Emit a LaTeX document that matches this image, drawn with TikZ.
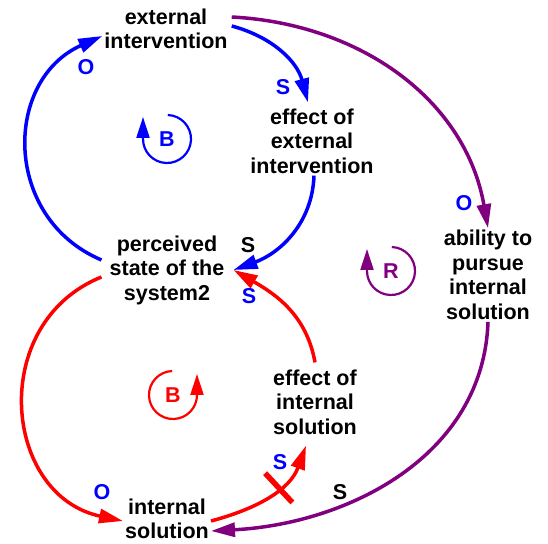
\documentclass[tikz,border=0pt]{standalone}
\usepackage{fontspec}
\setmainfont{Liberation Sans}
\usetikzlibrary{arrows.meta}

\definecolor{loopR}{RGB}{128,0,128}

\begin{document}
\begin{tikzpicture}[x=1pt, y=1pt,
    var/.style={font=\fontsize{21.5}{24.5}\selectfont\bfseries, align=center, inner sep=2pt},
    pol/.style={font=\fontsize{21.5}{24}\selectfont\bfseries, inner sep=1pt},
    link/.style={line width=3.5pt, -{Triangle[length=24pt,width=14pt]}},
    loopmark/.style={line width=2.2pt, -{Triangle[length=21pt,width=13pt]}},
    delaybar/.style={sloped, fill=red, inner sep=0pt, minimum width=5.5pt, minimum height=40pt}]

    \useasboundingbox (0,0) rectangle (548,543);

    % variables
    \node[var] (ext)    at (166,514) {external\\intervention};
    \node[var] (effext) at (312,402) {effect of\\external\\intervention};
    \node[var] (perc)   at (167,273) {perceived\\state of the\\system2};
    \node[var] (abil)   at (488,268) {ability to\\pursue\\internal\\solution};
    \node[var] (effint) at (315,141) {effect of\\internal\\solution};
    \node[var] (intsol) at (167,24)  {internal\\solution};

    % blue loop
    \draw[link, blue] ([xshift=-6pt,yshift=10pt]perc.west) to[out=157, in=204, distance=108pt] ([yshift=-7pt]ext.west);
    \draw[link, blue] ([xshift=2pt,yshift=3pt]ext.east) to[out=-15, in=105] ([xshift=-4pt,yshift=4pt]effext.north);
    \draw[link, blue] ([xshift=2pt]effext.south) to[out=-92, in=20] ([xshift=7pt]perc.east);

    % red loop
    \draw[link, red] ([xshift=-6pt,yshift=-7pt]perc.west) to[out=202, in=168, distance=123pt] ([yshift=-2pt]intsol.west);
    \draw[link, red] ([yshift=-2pt]intsol.east) to[out=15, in=250]
        node[delaybar, pos=.6] (dly) {} ([xshift=-9pt,yshift=-9pt]effint.south);
    \draw[link, red] ([yshift=5pt]effint.north) to[out=100, in=-30] ([xshift=7pt]perc.east);

    % purple loop
    \draw[link, loopR] ([xshift=2pt,yshift=12pt]ext.east) to[out=-3, in=100] (abil.north);
    \draw[link, loopR] (abil.south) to[out=-92, in=3] ([yshift=-12pt]intsol.east);

    % polarities
    \node[pol, blue] (o1) at (86,476)  {O};
    \node[pol, blue] (s1) at (283,456) {S};
    \node[pol]       (s2) at (248,298) {S};
    \node[pol, blue] (s3) at (249,247) {S};
    \node[pol, blue] (o2) at (102,51)  {O};
    \node[pol, blue] (s4) at (280,81)  {S};
    \node[pol, blue] (o3) at (464,340) {O};
    \node[pol]       (s5) at (340,51)  {S};

    % loop markers
    \node[pol, blue]  (bB) at (167,404) {B};
    \node[pol, loopR] (rR) at (391,272) {R};
    \node[pol, red]   (rB) at (173,148) {B};
    \draw[loopmark, blue]  ([shift={(88:24)}]bB.center) arc[start angle=88, end angle=-180, radius=24] -- ++(0,22);
    \draw[loopmark, loopR] ([shift={(88:24)}]rR.center) arc[start angle=88, end angle=-180, radius=24] -- ++(0,22);
    \draw[loopmark, red]   ([shift={(92:24)}]rB.center) arc[start angle=92, end angle=360, radius=24] -- ++(0,21);

\end{tikzpicture}
\end{document}
